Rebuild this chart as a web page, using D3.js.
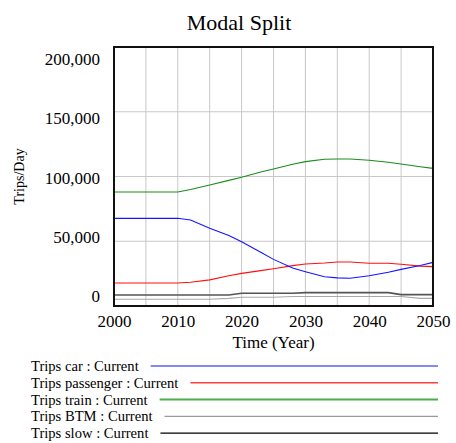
<!DOCTYPE html>
<html>
<head>
<meta charset="utf-8">
<script src="https://cdn.jsdelivr.net/npm/d3@7"></script>
<style>
  html, body { margin: 0; padding: 0; background: #fff; }
  svg { display: block; }
  text { font-family: "Liberation Serif", "Times New Roman", serif; fill: #000; }
</style>
</head>
<body>
<svg id="chart" width="456" height="443"></svg>
<script>
// Simulation output, trips per day by mode
const years = [2000, 2005, 2010, 2012, 2015, 2018, 2020, 2023, 2025, 2028, 2030, 2033, 2035, 2037, 2040, 2043, 2045, 2048, 2050];
const tripsCar       = [67700, 67700, 67700, 66400, 60000, 54500, 49600, 41500, 36000, 29300, 26500, 22600, 21700, 21400, 23400, 26000, 28300, 31300, 33700];
const tripsPassenger = [17800, 17800, 17800, 18300, 20200, 23300, 25200, 27300, 28800, 31200, 32400, 33200, 34000, 34000, 33000, 33000, 32200, 30800, 30400];
const tripsTrain     = [88000, 88000, 88000, 90000, 93400, 97000, 99400, 103500, 105800, 109500, 111500, 113300, 113500, 113500, 112500, 111000, 109600, 107500, 106300];
const tripsBTM       = [5200, 5200, 5200, 5200, 5200, 5900, 6700, 6700, 6700, 7300, 7300, 7300, 7300, 7300, 7300, 7300, 7300, 5900, 5900];
const tripsSlow      = [8500, 8500, 8500, 8500, 8500, 8500, 9800, 9800, 9800, 9800, 10300, 10300, 10300, 10300, 10300, 10300, 8800, 8800, 8800];

const seriesNames  = ["Trips car : Current", "Trips passenger : Current", "Trips train : Current", "Trips BTM : Current", "Trips slow : Current"];
const seriesValues = [tripsCar, tripsPassenger, tripsTrain, tripsBTM, tripsSlow];

const yTicks = [0, 50000, 100000, 150000, 200000];
const xTicks = [2000, 2010, 2020, 2030, 2040, 2050];

const title = "Modal Split";
const xTitle = "Time (Year)";
const yTitle = "Trips/Day";

// styling per series: plot stroke, legend stroke, widths
const lineStyle = [
  { color: "#1414ff", legend: "#1010ee", width: 1.1, legendWidth: 1.2 },
  { color: "#ff1010", legend: "#ff4040", width: 1.1, legendWidth: 1.5 },
  { color: "#1c8c1c", legend: "#4cae4c", width: 1.1, legendWidth: 2 },
  { color: "#a8a8a8", legend: "#9a9a9a", width: 1.1, legendWidth: 1.2 },
  { color: "#555555", legend: "#000000", width: 1.6, legendWidth: 1.2 }
];

const svg = d3.select("#chart");
const plot = { left: 114, right: 433, top: 47, bottom: 306 };

const x = d3.scaleLinear().domain([2000, 2050]).range([plot.left, plot.right]);
const y = d3.scaleLinear().domain([0, 200000]).range([plot.bottom, plot.top]);
// value labels are spread evenly inside the frame
const yLabel = d3.scaleLinear().domain([0, 200000]).range([296.5, 59]);

// title
svg.append("text")
  .attr("x", 239).attr("y", 30)
  .attr("text-anchor", "middle")
  .style("font-size", "22px")
  .text(title);

// grid
const grid = svg.append("g");
grid.selectAll("line.v")
  .data(d3.range(2005, 2050, 5))
  .join("line")
  .attr("x1", d => x(d)).attr("x2", d => x(d))
  .attr("y1", plot.top).attr("y2", plot.bottom)
  .attr("stroke", "#c8c8c8").attr("stroke-width", 1);
grid.selectAll("line.h")
  .data(yTicks.slice(1, -1))
  .join("line")
  .attr("x1", plot.left).attr("x2", plot.right)
  .attr("y1", d => y(d)).attr("y2", d => y(d))
  .attr("stroke", "#c8c8c8").attr("stroke-width", 1);

// series lines
const line = d3.line()
  .x((d, i) => x(years[i]))
  .y(d => y(d));

svg.append("g").selectAll("path")
  .data(seriesValues.map((v, i) => ({ v, i })).reverse())
  .join("path")
  .attr("d", d => line(d.v))
  .attr("fill", "none")
  .attr("stroke", d => lineStyle[d.i].color)
  .attr("stroke-width", d => lineStyle[d.i].width);

// frame
svg.append("rect")
  .attr("x", plot.left).attr("y", plot.top)
  .attr("width", plot.right - plot.left)
  .attr("height", plot.bottom - plot.top)
  .attr("fill", "none")
  .attr("stroke", "#111")
  .attr("stroke-width", 2);

// y axis labels
const yAxis = svg.append("g")
  .attr("transform", `translate(${plot.left},0)`)
  .call(d3.axisLeft(yLabel).tickValues(yTicks).tickSize(0).tickPadding(14)
    .tickFormat(d3.format(",")));
yAxis.select(".domain").remove();
yAxis.selectAll("text")
  .style("font-size", "17px")
  .style("font-family", "'Liberation Serif', 'Times New Roman', serif")
  .attr("fill", "#000");

// x axis labels
const xAxis = svg.append("g")
  .attr("transform", `translate(0,${plot.bottom})`)
  .call(d3.axisBottom(x).tickValues(xTicks).tickSize(0).tickPadding(9)
    .tickFormat(d3.format("d")));
xAxis.select(".domain").remove();
xAxis.selectAll("text")
  .style("font-size", "17px")
  .style("font-family", "'Liberation Serif', 'Times New Roman', serif")
  .attr("fill", "#000");

// axis titles
svg.append("text")
  .attr("x", (plot.left + plot.right) / 2).attr("y", 348)
  .attr("text-anchor", "middle")
  .style("font-size", "17px")
  .text(xTitle);

svg.append("text")
  .attr("transform", `translate(24,${(plot.top + plot.bottom) / 2}) rotate(-90)`)
  .attr("text-anchor", "middle")
  .style("font-size", "14px")
  .text(yTitle);

// legend
const legend = svg.append("g");
const rows = legend.selectAll("g")
  .data(seriesNames.map((name, i) => ({ name, i })))
  .join("g")
  .attr("transform", d => `translate(31,${371 + d.i * 16.8})`);

rows.append("text")
  .attr("x", 0).attr("y", 0)
  .style("font-size", "14.6px")
  .text(d => d.name);

rows.each(function(d) {
  const g = d3.select(this);
  const w = g.select("text").node().getComputedTextLength();
  g.append("line")
    .attr("x1", w + 12).attr("x2", 438 - 31)
    .attr("y1", -5).attr("y2", -5)
    .attr("stroke", lineStyle[d.i].legend)
    .attr("stroke-width", lineStyle[d.i].legendWidth);
});
</script>
</body>
</html>
